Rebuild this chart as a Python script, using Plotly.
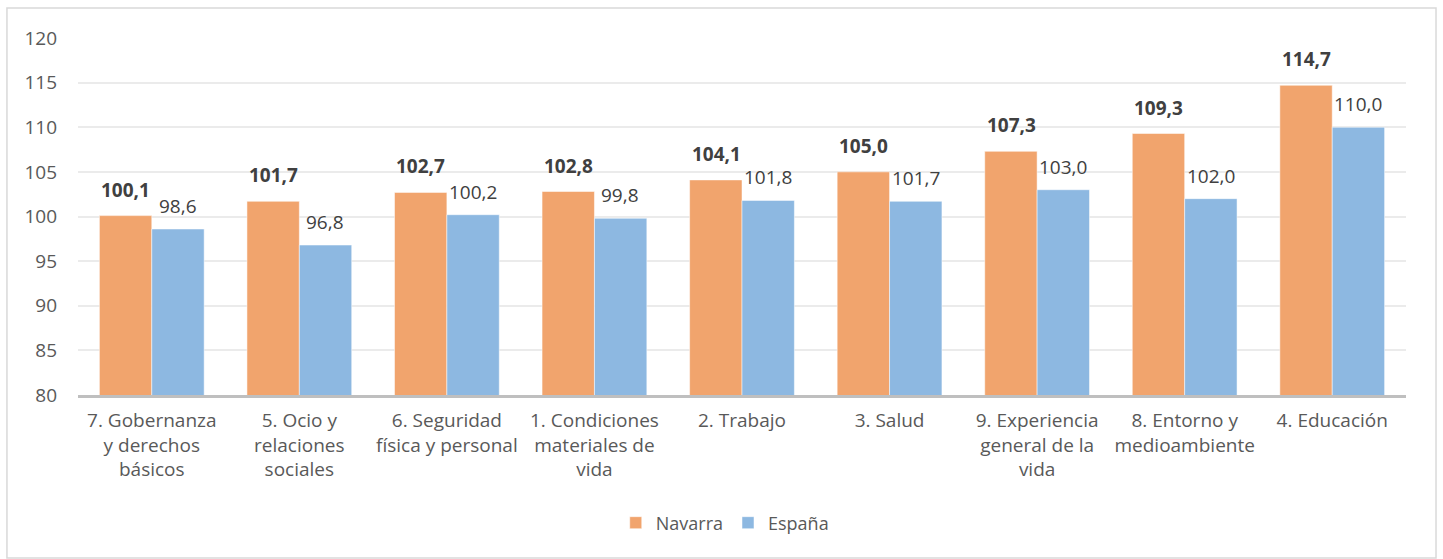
import plotly.graph_objects as go

categories = ['7. Gobernanza<br>y derechos<br>básicos', '5. Ocio y<br>relaciones<br>sociales',
              '6. Seguridad<br>física y personal', '1. Condiciones<br>materiales de<br>vida',
              '2. Trabajo', '3. Salud', '9. Experiencia<br>general de la<br>vida',
              '8. Entorno y<br>medioambiente', '4. Educación']
navarra = [100.1, 101.7, 102.7, 102.8, 104.1, 105.0, 107.3, 109.3, 114.7]
espana = [98.6, 96.8, 100.2, 99.8, 101.8, 101.7, 103.0, 102.0, 110.0]


def fmt(v):
    return f'{v:.1f}'.replace('.', ',')


fig = go.Figure(data=[
    go.Bar(name='Navarra', x=categories, y=navarra, marker_color='#F1A46D',
           marker_line=dict(color='white', width=0.5)),
    go.Bar(name='España', x=categories, y=espana, marker_color='#8DB8E1',
           marker_line=dict(color='white', width=0.5)),
])

# value labels above each bar
annotations = []
for cat, v in zip(categories, navarra):
    annotations.append(dict(x=cat, y=v, xref='x', yref='y', text='<b>' + fmt(v) + '</b>',
                            showarrow=False, xshift=-26, yanchor='bottom', yshift=11,
                            font=dict(size=19, color='#404040')))
for cat, v in zip(categories, espana):
    annotations.append(dict(x=cat, y=v, xref='x', yref='y', text=fmt(v),
                            showarrow=False, xshift=26, yanchor='bottom', yshift=8,
                            font=dict(size=19, color='#404040')))

fig.update_layout(
    width=1443, height=559, barmode='group', bargap=0.29, bargroupgap=0,
    margin=dict(t=38, b=164, l=78, r=37),
    paper_bgcolor='white', plot_bgcolor='white',
    font=dict(family='Open Sans', size=19, color='#595959'),
    legend=dict(orientation='h', x=0.487, xanchor='center', y=-0.3585, yanchor='middle',
                font=dict(size=18, color='#595959'), traceorder='normal', itemwidth=30),
    xaxis=dict(showline=True, linecolor='#BFBFBF', linewidth=3, ticks='', automargin=False,
               tickfont=dict(size=19, color='#595959'), ticklabelstandoff=6),
    yaxis=dict(range=[80, 120], dtick=5, showgrid=True, gridcolor='#EBEBEB', gridwidth=1.5,
               zeroline=False, ticks='', automargin=False,
               tickfont=dict(size=19, color='#595959'), ticklabelstandoff=20),
    shapes=[dict(type='rect', xref='paper', yref='paper', x0=-0.0535, x1=1.0226,
                 y0=-0.4566, y1=1.084, line=dict(color='#D9D9D9', width=1.5))],
    annotations=annotations,
)

fig.write_html("out.html", config={'displayModeBar': False},
               post_script="document.body.style.margin='0';")
